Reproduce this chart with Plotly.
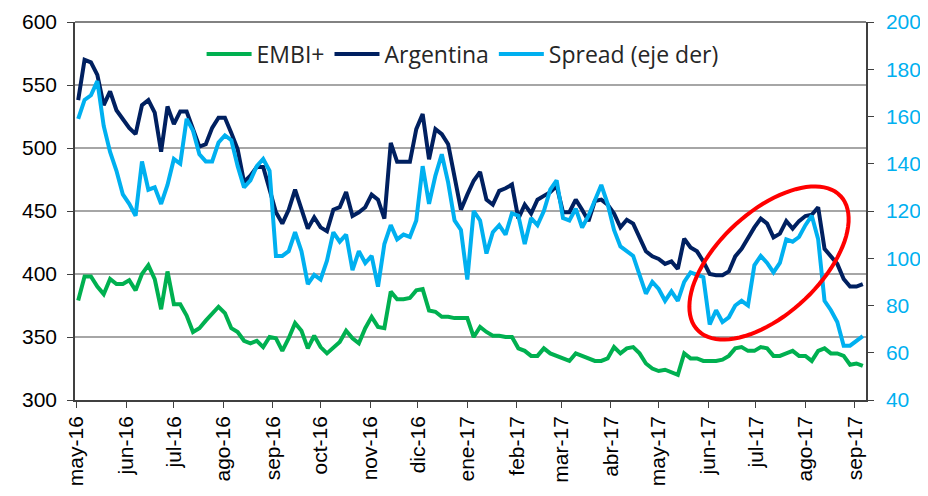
import numpy as np
import pandas as pd
import plotly.graph_objects as go

# sampled every 4 days starting 2 May 2016
dates = pd.date_range("2016-05-02", periods=124, freq="4D")

embi = [379, 398, 398, 390, 384, 396, 392, 392, 395, 387,
        400, 407, 396, 372, 402, 376, 376, 367, 354, 357,
        363, 369, 374, 369, 357, 354, 347, 345, 347, 342,
        350, 349, 339, 349, 361, 355, 341, 351, 342, 337,
        341, 346, 355, 349, 345, 357, 366, 358, 357, 386,
        380, 380, 381, 387, 388, 371, 370, 366, 366, 365,
        365, 365, 350, 358, 354, 351, 351, 350, 350, 341,
        339, 335, 335, 341, 337, 335, 333, 331, 337, 335,
        333, 331, 331, 333, 342, 337, 341, 342, 337, 329,
        325, 323, 324, 322, 320, 337, 333, 333, 331, 331,
        331, 332, 335, 341, 342, 339, 339, 342, 341, 335,
        335, 337, 339, 335, 335, 331, 339, 341, 337, 337,
        335, 328, 329, 327]

argentina = [538, 570, 568, 558, 534, 545, 530, 523, 516, 511,
             534, 538, 528, 497, 533, 519, 529, 529, 516, 501,
             503, 516, 524, 524, 512, 499, 473, 478, 485, 485,
             467, 449, 440, 451, 467, 451, 436, 445, 437, 434,
             451, 453, 465, 446, 449, 453, 463, 459, 444, 504,
             489, 489, 489, 515, 527, 491, 515, 511, 503, 477,
             451, 463, 474, 481, 459, 455, 466, 468, 471, 444,
             455, 448, 459, 462, 465, 470, 449, 449, 459, 451,
             442, 458, 459, 455, 448, 437, 443, 440, 429, 418,
             414, 412, 408, 410, 404, 428, 421, 418, 410, 400,
             399, 399, 402, 414, 420, 429, 437, 444, 440, 429,
             432, 442, 436, 442, 446, 447, 453, 420, 414, 408,
             396, 390, 390, 392]

spread = [159, 167, 169, 175, 156, 145, 137, 127, 123, 118,
          141, 129, 130, 123, 131, 142, 140, 159, 154, 144,
          141, 141, 149, 152, 150, 139, 130, 133, 139, 142,
          137, 101, 101, 103, 111, 103, 89, 93, 91, 99,
          111, 107, 110, 95, 103, 98, 101, 88, 106, 114,
          108, 110, 109, 116, 139, 123, 135, 144, 132, 116,
          112, 91, 120, 116, 102, 111, 114, 110, 119, 118,
          106, 117, 114, 120, 129, 133, 117, 116, 121, 113,
          118, 125, 131, 123, 112, 105, 103, 101, 93, 85,
          90, 87, 82, 86, 82, 90, 94, 93, 92, 72,
          78, 73, 75, 80, 82, 80, 97, 101, 98, 94,
          98, 108, 107, 109, 114, 118, 108, 82, 78, 73,
          63, 63, 65, 67]

month_ticks = pd.date_range("2016-05-01", "2017-09-01", freq="MS")
month_names = ["ene", "feb", "mar", "abr", "may", "jun",
               "jul", "ago", "sep", "oct", "nov", "dic"]
month_labels = [f"{month_names[d.month - 1]}-{d.strftime('%y')}" for d in month_ticks]

# the page body adds an 8px offset, so the figure is 8px smaller
OFF = 8
W, H = 928 - OFF, 496 - OFF
L, T = 75 - OFF, 22 - OFF
pw, ph = 791, 378
R, B = W - L - pw, H - T - ph

fig = go.Figure()
fig.add_trace(go.Scatter(x=dates, y=embi, name="EMBI+", mode="lines",
                         line=dict(color="#00B050", width=4)))
fig.add_trace(go.Scatter(x=dates, y=argentina, name="Argentina", mode="lines",
                         line=dict(color="#002060", width=4)))
fig.add_trace(go.Scatter(x=dates, y=spread, name="Spread (eje der)", mode="lines",
                         yaxis="y2", line=dict(color="#00B0F0", width=4)))

# red ellipse highlighting the recent divergence (page pixels -> paper)
cx, cy, a, b, th = 769, 263, 98, 51, np.deg2rad(43)
t = np.linspace(0, 2 * np.pi, 90)
ex = cx + a * np.cos(t) * np.cos(th) - b * np.sin(t) * np.sin(th)
ey = cy - (a * np.cos(t) * np.sin(th) + b * np.sin(t) * np.cos(th))
px = (ex - 75) / pw
py = (400 - ey) / ph
path = "M " + " L ".join(f"{u:.4f},{v:.4f}" for u, v in zip(px, py)) + " Z"
fig.add_shape(type="path", path=path, xref="paper", yref="paper",
              line=dict(color="#FF0000", width=4))

# top border
fig.add_shape(type="line", xref="paper", yref="paper", x0=0, x1=1, y0=1, y1=1,
              line=dict(color="#595959", width=1.5))

fig.update_layout(
    width=W, height=H,
    margin=dict(l=L, r=R, t=T, b=B, autoexpand=False),
    plot_bgcolor="white", paper_bgcolor="white",
    font=dict(family="Liberation Sans, Arial, sans-serif", size=20, color="#000000"),
    showlegend=True,
    legend=dict(orientation="h", x=0.49, y=0.915, xanchor="center", yanchor="middle",
                bgcolor="rgba(255,255,255,0)", itemwidth=45,
                font=dict(family="Open Sans, Noto Sans, sans-serif", size=23, color="#262626")),
    xaxis=dict(
        range=["2016-04-30", "2017-09-08"],
        tickvals=month_ticks, ticktext=month_labels, tickangle=-90,
        tickfont=dict(size=21),
        showgrid=False, showline=True, linecolor="#404040", linewidth=1.5,
        ticks="outside", ticklen=6, tickcolor="#404040",
    ),
    yaxis=dict(
        range=[300, 600], dtick=50, tickfont=dict(size=21),
        showgrid=True, gridcolor="#A6A6A6", gridwidth=1.5,
        showline=True, linecolor="#404040", linewidth=1.5,
        ticks="outside", ticklen=6, tickcolor="#404040", zeroline=False,
        ticklabelstandoff=6,
    ),
    yaxis2=dict(
        range=[40, 200], dtick=20, overlaying="y", side="right",
        tickfont=dict(size=21, color="#00B0F0"),
        showgrid=False, showline=True, linecolor="#404040", linewidth=1.5,
        ticks="outside", ticklen=6, tickcolor="#404040", zeroline=False,
        ticklabelstandoff=8,
    ),
)

fig.write_html("out.html")
